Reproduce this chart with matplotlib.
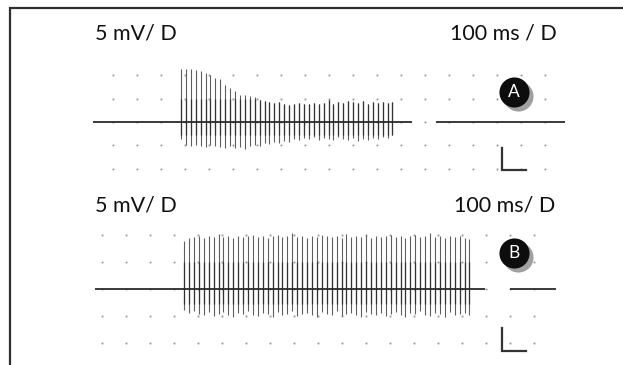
import numpy as np
import matplotlib
matplotlib.use("Agg")
import matplotlib.pyplot as plt
from matplotlib import transforms

# ---------------- data ----------------
# Panel A (5 mV/D, 100 ms/D)
a_pre = [-83, 283]          # baseline before burst (ms)
a_first_spike = 283          # ms
a_interval = 20.5            # ms between stimuli
a_post = [1171, 1246]        # baseline after burst (ms)
a_tail = [1346, 1883]        # trailing baseline segment (ms)
a_peaks = [11.4, 11.4, 11.4, 11.2, 10.9, 10.5, 10.1, 9.4, 9.2, 7.9, 7.3, 6.7,
           5.8, 5.8, 5.6, 5.4, 4.7, 4.5, 4.3, 4.1, 4.3, 3.9, 3.6, 3.9, 4.1,
           3.9, 3.9, 4.1, 3.9, 4.1, 4.7, 3.9, 4.3, 4.1, 4.5, 4.3, 4.1, 4.5,
           3.9, 4.3, 4.1, 4.3, 4.1, 4.3]
a_troughs = [-3.6, -4.9, -5.2, -4.9, -5.2, -5.4, -4.9, -5.2, -5.4, -5.6, -5.2,
             -5.6, -5.4, -5.8, -5.2, -4.9, -5.2, -4.5, -4.7, -4.3, -4.5, -4.1,
             -4.3, -3.6, -3.9, -3.4, -3.6, -3.2, -3.9, -3.4, -3.6, -3.9, -3.2,
             -3.6, -3.9, -3.4, -4.1, -3.6, -3.9, -3.4, -3.6, -3.2, -3.4, -2.8]

# Panel B (5 mV/D, 100 ms/D)
b_pre = [-29, 342]
b_first_spike = 342
b_interval = 20.5
b_post = [1525, 1596]
b_tail = [1700, 1892]
b_peaks = [8.9, 9.4, 9.6, 9.8, 9.4, 9.8, 9.6, 10.2, 9.6, 9.8, 9.4, 9.8, 9.6,
           9.8, 10.0, 9.6, 9.8, 9.4, 9.8, 10.0, 9.6, 9.8, 10.4, 9.6, 9.8, 9.4,
           9.8, 9.6, 10.0, 9.8, 9.6, 9.8, 9.4, 10.2, 9.6, 9.8, 9.6, 10.0, 9.4,
           9.8, 9.6, 9.8, 10.0, 9.6, 9.8, 9.4, 9.8, 10.0, 9.6, 9.8, 10.4, 9.6,
           9.8, 9.4, 9.8, 9.6, 9.8, 9.4, 9.2]
b_troughs = [-3.9, -4.4, -4.1, -4.6, -4.8, -4.3, -5.0, -4.6, -4.3, -4.8, -5.2,
             -4.4, -4.6, -4.1, -4.8, -5.0, -4.4, -4.6, -5.2, -4.3, -4.8, -4.6,
             -4.1, -5.0, -4.6, -4.4, -4.8, -5.2, -4.3, -4.6, -4.8, -4.1, -5.0,
             -4.6, -4.4, -4.8, -5.2, -4.3, -4.6, -4.8, -4.4, -5.0, -4.6, -4.3,
             -4.8, -5.2, -4.4, -4.6, -4.1, -4.8, -5.0, -4.4, -4.6, -5.2, -4.3,
             -4.8, -4.6, -4.4, -4.8]

grid_cols_ms = list(range(0, 1801, 100))
grid_rows_mv = [-10, -5, 0, 5, 10]

panel_labels = ["A", "B"]
volt_labels = ["5 mV/ D", "5 mV/ D"]
time_labels = ["100 ms / D", "100 ms/ D"]

# ---------------- figure ----------------
W, H = 623, 365
fig = plt.figure(figsize=(W / 100, H / 100), dpi=100)
fig.patch.set_facecolor("white")
FONT = ["Lato", "DejaVu Sans"]


def px_axes(x0, y0, x1, y1):
    return fig.add_axes([x0 / W, 1 - y1 / H, (x1 - x0) / W, (y1 - y0) / H])


def draw_panel(ax, pre, first, interval, post, tail, peaks, troughs,
               label, circ_xy, bar_xy, bar_h):
    ax.set_axis_off()
    gx, gy = np.meshgrid(grid_cols_ms, grid_rows_mv)
    ax.scatter(gx.ravel(), gy.ravel(), s=2.4, color="#a0a0a0", lw=0, zorder=1)
    n = len(peaks)
    times = first + interval * np.arange(n)
    # baseline
    ax.plot([pre[0], post[1]], [0, 0], color="#2a2a2a", lw=1.3, zorder=3,
            solid_capstyle="butt")
    ax.plot(tail, [0, 0], color="#2a2a2a", lw=1.3, zorder=3,
            solid_capstyle="butt")
    pk = np.array(peaks)
    tr = np.array(troughs)
    ax.vlines(times, tr, pk, color="#5e5e5e", lw=0.8, zorder=2)
    ax.vlines(times, np.maximum(tr, -2.8), np.minimum(pk, 5.0),
              color="#333333", lw=0.9, zorder=2)
    # scale bar L
    bx, by = bar_xy
    ax.plot([bx, bx, bx + 100], [by + bar_h, by, by], color="#333333",
            lw=1.6, zorder=3, solid_joinstyle="miter")
    # circle label with shadow
    cx, cy = circ_xy
    sh = transforms.offset_copy(ax.transData, fig=fig, x=4, y=-4,
                                units="dots")
    ax.scatter([cx], [cy], s=470, color="#a0a0a0", lw=0, zorder=4,
               transform=sh)
    ax.scatter([cx], [cy], s=470, color="#0d0d0d", lw=0, zorder=5)
    ax.text(cx, cy, label, color="white", ha="center", va="center",
            fontsize=12.5, family=FONT, zorder=6)


# Panel A: px 80..600 horizontally, 55..185 vertically
axA = px_axes(80, 55, 600, 185)
axA.set_xlim((80 - 113) / 24 * 100, (600 - 113) / 24 * 100)
axA.set_ylim((122 - 185) / 4.66, (122 - 55) / 4.66)
draw_panel(axA, a_pre, a_first_spike, a_interval, a_post, a_tail,
           a_peaks, a_troughs, panel_labels[0], (1671, 6.4), (1621, -10.3), 4.7)

# Panel B: px 80..600 horizontally, 215..365 vertically
axB = px_axes(80, 215, 600, 365)
axB.set_xlim((80 - 102) / 24 * 100, (600 - 102) / 24 * 100)
axB.set_ylim((289 - 365) / 5.4, (289 - 215) / 5.4)
draw_panel(axB, b_pre, b_first_spike, b_interval, b_post, b_tail,
           b_peaks, b_troughs, panel_labels[1], (1717, 6.7), (1667, -11.5), 4.3)

# labels
FS = 15.5
fig.text(95 / W, 1 - 34 / H, volt_labels[0], fontsize=FS, family=FONT,
         ha="left", va="center", color="#111111")
fig.text(557 / W, 1 - 34 / H, time_labels[0], fontsize=FS, family=FONT,
         ha="right", va="center", color="#111111")
fig.text(95 / W, 1 - 205 / H, volt_labels[1], fontsize=FS, family=FONT,
         ha="left", va="center", color="#111111")
fig.text(555 / W, 1 - 205 / H, time_labels[1], fontsize=FS, family=FONT,
         ha="right", va="center", color="#111111")

# frame (top and left border)
border = fig.add_axes([0, 0, 1, 1])
border.set_axis_off()
border.set_xlim(0, W)
border.set_ylim(H, 0)
border.plot([9.5, 9.5, W], [H, 7.5, 7.5], color="#2e2e2e", lw=1.6,
            solid_joinstyle="miter")

fig.savefig("out.png", dpi=100, facecolor="white")
